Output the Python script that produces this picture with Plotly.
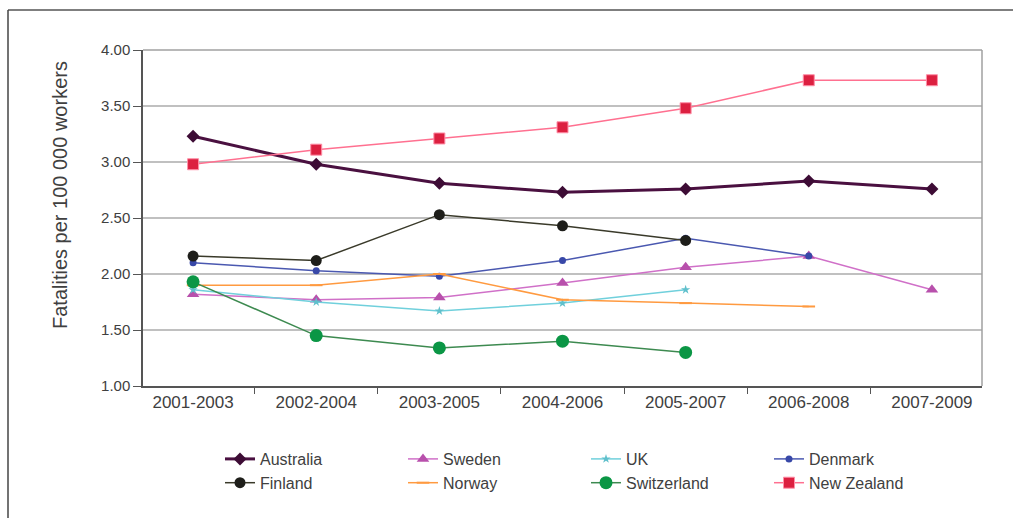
import plotly.graph_objects as go

periods = ["2001-2003", "2002-2004", "2003-2005", "2004-2006", "2005-2007", "2006-2008", "2007-2009"]

australia = [3.23, 2.98, 2.81, 2.73, 2.76, 2.83, 2.76]
sweden = [1.82, 1.77, 1.79, 1.92, 2.06, 2.16, 1.86]
uk = [1.86, 1.75, 1.67, 1.74, 1.86, None, None]
denmark = [2.10, 2.03, 1.98, 2.12, 2.32, 2.16, None]
finland = [2.16, 2.12, 2.53, 2.43, 2.30, None, None]
norway = [1.90, 1.90, 2.00, 1.77, 1.74, 1.71, None]
switzerland = [1.93, 1.45, 1.34, 1.40, 1.30, None, None]
new_zealand = [2.98, 3.11, 3.21, 3.31, 3.48, 3.73, 3.73]

y_ticks = [1.0, 1.5, 2.0, 2.5, 3.0, 3.5, 4.0]
y_title = "Fatalities per 100 000 workers"

series = [
    ("Australia", australia, dict(color="#4a1040", width=3), dict(symbol="diamond", size=10, color="#3d0c35")),
    ("Sweden", sweden, dict(color="#d070c8", width=1.5), dict(symbol="triangle-up", size=11, color="#b850ac")),
    ("UK", uk, dict(color="#70d0dc", width=1.5), dict(symbol="star", size=7, color="#60c0cc")),
    ("Denmark", denmark, dict(color="#4a58b0", width=1.5), dict(symbol="circle", size=7, color="#3848a8")),
    ("Finland", finland, dict(color="#3a3a2a", width=1.5), dict(symbol="circle", size=11, color="#1e1e1a")),
    ("Norway", norway, dict(color="#ff9a40", width=1.5), dict(symbol="line-ew", size=9, color="#ff9a40", line=dict(width=2, color="#ff9a40"))),
    ("Switzerland", switzerland, dict(color="#3d8a50", width=1.5), dict(symbol="circle", size=13, color="#0b9645")),
    ("New Zealand", new_zealand, dict(color="#ff7090", width=1.5), dict(symbol="square", size=11, color="#dc2040", line=dict(width=1, color="#ff90a8"))),
]

fig = go.Figure()
for name, vals, line, marker in series:
    fig.add_trace(go.Scatter(x=periods, y=vals, name=name, mode="lines+markers",
                             line=line, marker=marker, connectgaps=False))

W, H = 1013, 518
L, R, T, B = 143, 982, 50, 386
pw, ph = R - L, B - T

def px_x(p):
    return (p - L) / pw

def px_y(p):
    return (B - p) / ph

fig.update_layout(
    width=W, height=H,
    margin=dict(l=L, r=W - R, t=T, b=H - B),
    paper_bgcolor="white", plot_bgcolor="white",
    font=dict(family="Liberation Sans, Arial, sans-serif", size=15, color="#404040"),
    showlegend=True,
    legend=dict(orientation="h", x=px_x(220), xanchor="left", y=px_y(442), yanchor="top",
                entrywidth=138, entrywidthmode="pixels", tracegroupgap=0,
                font=dict(size=16, color="#404040"), itemwidth=30,
                bgcolor="rgba(0,0,0,0)"),
    xaxis=dict(type="category", showgrid=False, showline=True, linecolor="#555555", linewidth=1.5,
               ticks="outside", tickson="boundaries", ticklen=6, tickcolor="#555555",
               tickfont=dict(size=17, color="#404040"), mirror=False, fixedrange=True),
    yaxis=dict(range=[1.0, 4.0], tickvals=y_ticks, ticktext=[f"{v:.2f}" for v in y_ticks],
               showgrid=True, gridcolor="#c0c0c0", gridwidth=1.5,
               showline=True, linecolor="#555555", linewidth=1.5,
               ticks="outside", ticklen=8, tickcolor="#555555",
               tickfont=dict(size=15, color="#404040"),
               zeroline=False),
    annotations=[
        dict(text=y_title, xref="paper", yref="paper", x=px_x(60), y=px_y(195),
             xanchor="center", yanchor="middle", textangle=-90, showarrow=False,
             font=dict(size=20, color="#404040")),
    ],
    shapes=[
        dict(type="line", xref="paper", yref="paper", x0=0, x1=1, y0=1, y1=1,
             line=dict(color="#a0a0a0", width=1.5)),
        dict(type="line", xref="paper", yref="paper", x0=1, x1=1, y0=0, y1=1,
             line=dict(color="#a0a0a0", width=1.5)),
        dict(type="line", xref="paper", yref="paper", x0=px_x(8), x1=px_x(1013), y0=px_y(10), y1=px_y(10),
             line=dict(color="#555555", width=1.5)),
        dict(type="line", xref="paper", yref="paper", x0=px_x(8), x1=px_x(8), y0=px_y(10), y1=px_y(518),
             line=dict(color="#444444", width=1.5)),
    ],
)

fig.write_html("out.html")
